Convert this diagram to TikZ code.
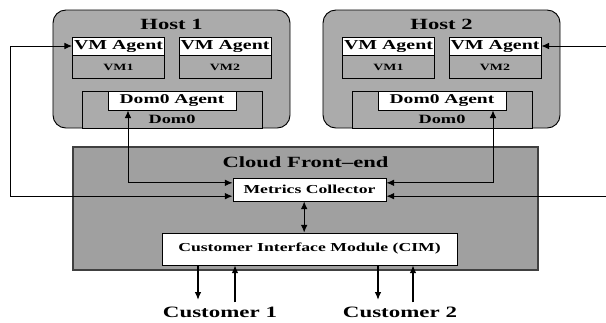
\documentclass[tikz,border=0pt]{standalone}
\usepackage{fontspec}
\setmainfont{Liberation Serif}
\usetikzlibrary{arrows.meta, positioning}
\newcommand{\wtxt}[1]{\scalebox{1.45}[1]{#1}}
\definecolor{hostgray}{HTML}{ABABAB}
\definecolor{cloudgray}{HTML}{A0A0A0}

\begin{document}
\begin{tikzpicture}[
    x=0.03cm, y=-0.03cm,
    >={Latex[length=2.3mm, width=2mm]},
    every node/.style={inner sep=0pt, font=\bfseries},
    host/.style  ={draw, line width=0.8pt, fill=hostgray, rounded corners=11pt,
                   minimum width=7.11cm, minimum height=3.54cm},
    title/.style ={font=\bfseries\fontsize{13.3}{14}\selectfont},
    agent/.style ={draw, line width=0.8pt, fill=white, minimum width=2.76cm,
                   minimum height=0.54cm, font=\bfseries\fontsize{11.7}{12}\selectfont},
    vm/.style    ={draw, line width=0.8pt, fill=hostgray, minimum width=2.76cm,
                   minimum height=0.69cm, font=\bfseries\fontsize{8.2}{9}\selectfont},
    dom/.style   ={draw, line width=0.8pt, fill=hostgray, minimum width=5.4cm,
                   minimum height=1.11cm},
    domlbl/.style={font=\bfseries\fontsize{10.8}{11}\selectfont},
    dagent/.style={draw, line width=0.8pt, fill=white, minimum width=3.84cm,
                   minimum height=0.57cm, font=\bfseries\fontsize{11.5}{12}\selectfont},
    front/.style ={draw=black!75, line width=1.3pt, fill=cloudgray,
                   minimum width=13.95cm, minimum height=3.69cm},
    module/.style={draw, line width=0.8pt, fill=white,
                   font=\bfseries\fontsize{10.4}{11}\selectfont},
    cust/.style  ={font=\bfseries\fontsize{13.5}{14}\selectfont},
    flow/.style  ={->, line width=1pt},
    dflow/.style ={<->, line width=0.8pt},
]
\clip (0,0) rectangle (606,322);
% host 1
\node[host] (host1) at (171.5,69) {};
\node[title, below=0.27cm of host1.north] (h1title) {\wtxt{Host 1}};
\node[agent] (a11) at (118.5,46) {\wtxt{VM Agent}};
\node[vm, below=0pt of a11] (v11) {\wtxt{VM1}};
\node[agent] (a12) at (225,46) {\wtxt{VM Agent}};
\node[vm, below=0pt of a12] (v12) {\wtxt{VM2}};
\node[dom] (d1) at (172,109.5) {};
\node[dagent, below=0pt of d1.north] (d1a) {\wtxt{Dom0 Agent}};
\node[domlbl, above=0.15cm of d1.south] (d1lbl) {\wtxt{Dom0}};
% host 2
\node[host] (host2) at (441.5,69) {};
\node[title, below=0.27cm of host2.north] (h2title) {\wtxt{Host 2}};
\node[agent] (a21) at (388.5,46) {\wtxt{VM Agent}};
\node[vm, below=0pt of a21] (v21) {\wtxt{VM1}};
\node[agent] (a22) at (495,46) {\wtxt{VM Agent}};
\node[vm, below=0pt of a22] (v22) {\wtxt{VM2}};
\node[dom] (d2) at (442,109.5) {};
\node[dagent, below=0pt of d2.north] (d2a) {\wtxt{Dom0 Agent}};
\node[domlbl, above=0.15cm of d2.south] (d2lbl) {\wtxt{Dom0}};
% cloud front-end
\node[front] (cf) at (305.5,208.5) {};
\node[title, below=0.3cm of cf.north] (cftitle) {\wtxt{Cloud Front--end}};
\node[module, minimum width=4.59cm, minimum height=0.69cm] (mc) at (309.5,189.5)
     {\wtxt{Metrics Collector}};
\node[module, minimum width=8.85cm, minimum height=0.96cm] (cim) at (309.5,249)
     {\wtxt{Customer Interface Module (CIM)}};
\node[cust] (cust1) at (220,312) {\wtxt{Customer 1}};
\node[cust] (cust2) at (400,312) {\wtxt{Customer 2}};
% dom0 agents <-> metrics collector
\draw[dflow] ([xshift=-1.32cm]d1a.south) |- ([yshift=0.2cm]mc.west);
\draw[dflow] ([xshift=1.53cm]d2a.south)  |- ([yshift=0.2cm]mc.east);
% vm agents <-> metrics collector, round the outside
\draw[dflow] (a11.west) -- ++(-62,0) |- ([yshift=-0.2cm]mc.west);
\draw[dflow] (a22.east) -- ++(70,0)  |- ([yshift=-0.2cm]mc.east);
\draw[dflow] ([xshift=-0.16cm]mc.south) -- ([xshift=-0.16cm]mc.south |- cim.north);
% customers
\draw[flow] ([xshift=-0.66cm]cust1.north |- cim.south) -- ([xshift=-0.66cm, yshift=0.2cm]cust1.north);
\draw[flow] ([xshift=0.45cm, yshift=0.12cm]cust1.north) -- ([xshift=0.45cm]cust1.north |- cim.south);
\draw[flow] ([xshift=-0.66cm]cust2.north |- cim.south) -- ([xshift=-0.66cm, yshift=0.2cm]cust2.north);
\draw[flow] ([xshift=0.39cm, yshift=0.12cm]cust2.north) -- ([xshift=0.39cm]cust2.north |- cim.south);
\end{tikzpicture}
\end{document}
